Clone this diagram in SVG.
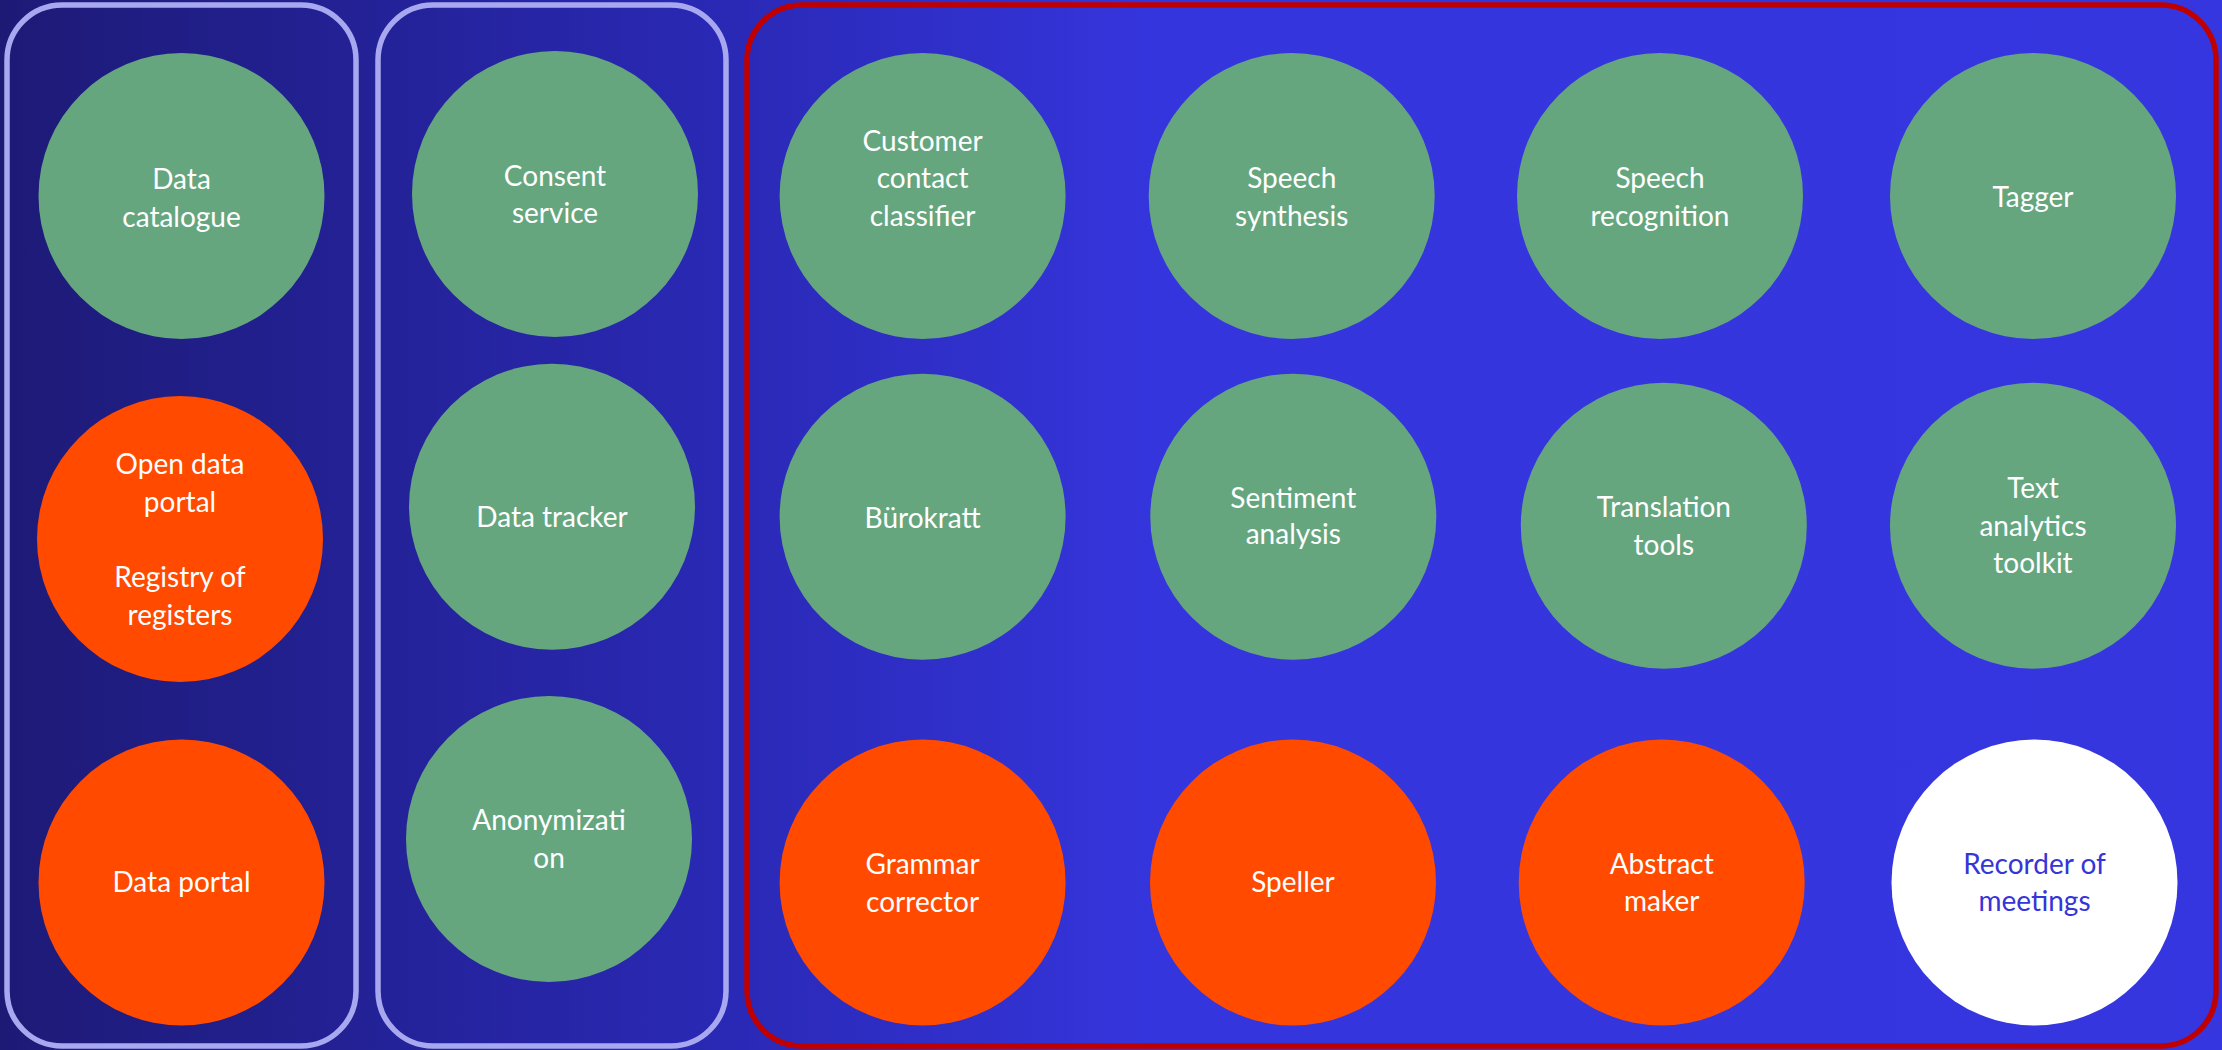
<svg xmlns="http://www.w3.org/2000/svg" width="2222" height="1050" viewBox="0 0 2222 1050">
  <defs>
    <linearGradient id="bg" x1="0" y1="0" x2="2222" y2="0" gradientUnits="userSpaceOnUse">
      <stop offset="0" stop-color="#1D1A76"/>
      <stop offset="0.33" stop-color="#2A29B6"/>
      <stop offset="0.52" stop-color="#3535DD"/>
      <stop offset="1" stop-color="#3636E0"/>
    </linearGradient>
  </defs>
  <style>
    .grp { fill: none; stroke: #A8A8F0; stroke-width: 5.5; }
    .grp-red { fill: none; stroke: #C00000; stroke-width: 5.5; }
    .green { fill: #65A67F; }
    .orange { fill: #FF4A00; }
    .white { fill: #FFFFFF; }
    text { font-family: Lato, "Liberation Sans", sans-serif; font-size: 28px; fill: #FFFFFF; text-anchor: middle; }
    text.blue { fill: #3535D8; }
  </style>
  <rect x="0" y="0" width="2222" height="1050" fill="url(#bg)"/>
  <g id="groups">
    <rect id="group-data" class="grp" x="7" y="5" width="349" height="1041" rx="55" ry="55"/>
    <rect id="group-privacy" class="grp" x="378" y="5" width="348" height="1041" rx="55" ry="55"/>
    <rect id="group-language" class="grp-red" x="747" y="5" width="1469" height="1041" rx="55" ry="55"/>
  </g>
  <g id="connectors"/>
  <g id="node-data-catalogue">
    <circle class="green" cx="181.5" cy="196" r="143"/>
    <text x="181.5" y="189.3">Data</text>
    <text x="181.5" y="226.7">catalogue</text>
  </g>
  <g id="node-open-data-portal">
    <circle class="orange" cx="180" cy="539" r="143"/>
    <text x="180" y="474.3">Open data</text>
    <text x="180" y="511.7">portal</text>
    <text x="180" y="587.3">Registry of</text>
    <text x="180" y="625">registers</text>
  </g>
  <g id="node-data-portal">
    <circle class="orange" cx="181.5" cy="882.5" r="143"/>
    <text x="181.5" y="892.3">Data portal</text>
  </g>
  <g id="node-consent-service">
    <circle class="green" cx="555" cy="194" r="143"/>
    <text x="555" y="185.7">Consent</text>
    <text x="555" y="223.3">service</text>
  </g>
  <g id="node-data-tracker">
    <circle class="green" cx="552" cy="506.7" r="143"/>
    <text x="552" y="526.7">Data tracker</text>
  </g>
  <g id="node-anonymization">
    <circle class="green" cx="549" cy="839" r="143"/>
    <text x="549" y="830">Anonymizati</text>
    <text x="549" y="868.3">on</text>
  </g>
  <g id="node-customer-contact-classifier">
    <circle class="green" cx="922.6" cy="196" r="143"/>
    <text x="922.6" y="150.7">Customer</text>
    <text x="922.6" y="187.7">contact</text>
    <text x="922.6" y="225.7">classifier</text>
  </g>
  <g id="node-speech-synthesis">
    <circle class="green" cx="1291.7" cy="196" r="143"/>
    <text x="1291.7" y="188">Speech</text>
    <text x="1291.7" y="225.7">synthesis</text>
  </g>
  <g id="node-speech-recognition">
    <circle class="green" cx="1660" cy="196" r="143"/>
    <text x="1660" y="188.3">Speech</text>
    <text x="1660" y="225.7">recognition</text>
  </g>
  <g id="node-tagger">
    <circle class="green" cx="2033" cy="196" r="143"/>
    <text x="2033" y="206.7">Tagger</text>
  </g>
  <g id="node-burokratt">
    <circle class="green" cx="922.6" cy="516.7" r="143"/>
    <text x="922.6" y="527.7">Bürokratt</text>
  </g>
  <g id="node-sentiment-analysis">
    <circle class="green" cx="1293.3" cy="516.7" r="143"/>
    <text x="1293.3" y="508.3">Sentiment</text>
    <text x="1293.3" y="544.3">analysis</text>
  </g>
  <g id="node-translation-tools">
    <circle class="green" cx="1663.8" cy="525.7" r="143"/>
    <text x="1663.8" y="517.3">Translation</text>
    <text x="1663.8" y="555">tools</text>
  </g>
  <g id="node-text-analytics-toolkit">
    <circle class="green" cx="2033" cy="525.7" r="143"/>
    <text x="2033" y="498.3">Text</text>
    <text x="2033" y="535.7">analytics</text>
    <text x="2033" y="573.3">toolkit</text>
  </g>
  <g id="node-grammar-corrector">
    <circle class="orange" cx="922.6" cy="882.5" r="143"/>
    <text x="922.6" y="874.3">Grammar</text>
    <text x="922.6" y="911.7">corrector</text>
  </g>
  <g id="node-speller">
    <circle class="orange" cx="1293" cy="882.5" r="143"/>
    <text x="1293" y="892.3">Speller</text>
  </g>
  <g id="node-abstract-maker">
    <circle class="orange" cx="1661.7" cy="882.5" r="143"/>
    <text x="1661.7" y="874.3">Abstract</text>
    <text x="1661.7" y="911">maker</text>
  </g>
  <g id="node-recorder-of-meetings">
    <circle class="white" cx="2034.5" cy="882.5" r="143"/>
    <text class="blue" x="2034.5" y="874.3">Recorder of</text>
    <text class="blue" x="2034.5" y="911">meetings</text>
  </g>
</svg>
